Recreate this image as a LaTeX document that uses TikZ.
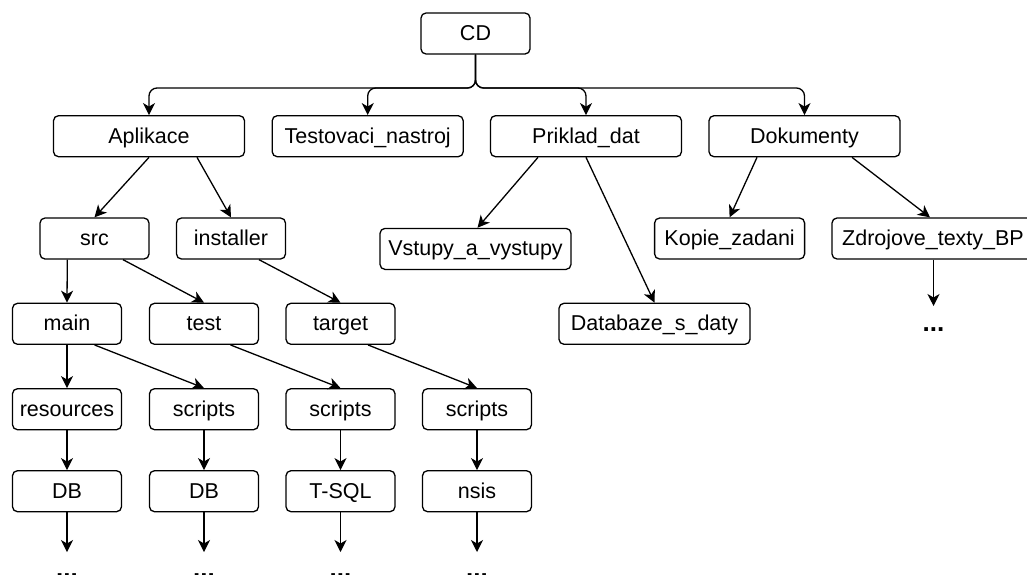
\documentclass[tikz,border=0pt]{standalone}
\usepackage{fontspec}
\setmainfont{Liberation Sans}
\usetikzlibrary{arrows.meta}
\begin{document}
\begin{tikzpicture}[x=1pt,y=-1pt,
  box/.style={draw, rounded corners=5pt, line width=1.3pt, inner sep=0pt,
    minimum height=41pt, text height=17.8pt, text depth=3.7pt,
    font=\fontsize{21.5}{25}\selectfont},
  narrow/.style={box, minimum width=109pt},
  wide/.style={box, minimum width=191pt},
  link/.style={line width=1.3pt, -{Stealth[length=12pt,width=12pt,inset=3.5pt]}},
  more/.style={font=\fontsize{26}{30}\selectfont\bfseries, anchor=base, inner sep=0pt}]

\useasboundingbox (0,0) rectangle (1027,574);
\clip (0,0) rectangle (1027,574);

% root and first level
\node[narrow] (cd) at (475.5,33.5) {CD};
\node[wide] (aplikace)  at (149,136.2)   {Aplikace};
\node[wide] (testovaci) at (367.7,136.2) {Testovaci\_nastroj};
\node[wide] (priklad)   at (586,136.2)   {Priklad\_dat};
\node[wide] (dokumenty) at (804.5,136.2) {Dokumenty};

% second level
\node[narrow] (src)       at (94.5,238.5) {src};
\node[narrow] (installer) at (231,238.5)  {installer};
\node[wide]   (vstupy)    at (475.5,248.9) {Vstupy\_a\_vystupy};
\node[box, minimum width=150pt] (kopie) at (729.6,238.5) {Kopie\_zadani};
\node[box, minimum width=202pt] (zdroj) at (933,238.5) {Zdrojove\_texty\_BP};
\node[wide]   (databaze)  at (654.5,323.8) {Databaze\_s\_daty};

% source tree columns
\node[narrow] (main)   at (67,323.8)    {main};
\node[narrow] (test)   at (204,323.8)   {test};
\node[narrow] (target) at (340.5,323.8) {target};

\node[narrow] (resources) at (67,409.2)    {resources};
\node[narrow] (scriptsA)  at (204,409.2)   {scripts};
\node[narrow] (scriptsB)  at (340.5,409.2) {scripts};
\node[narrow] (scriptsC)  at (477,409.2)   {scripts};

\node[narrow] (dbA)  at (67,491.2)    {DB};
\node[narrow] (dbB)  at (204,491.2)   {DB};
\node[narrow] (tsql) at (340.5,491.2) {T-SQL};
\node[narrow] (nsis) at (477,491.2)   {nsis};

% continuation marks
\coordinate (tipZ) at (933.5,306);
\coordinate (tipA) at (67,552);
\coordinate (tipB) at (204,552);
\coordinate (tipC) at (340.5,552);
\coordinate (tipD) at (477,552);
\node[more] (moreZ) at (933.5,331) {...};
\node[more] (moreA) at (67,577)    {...};
\node[more] (moreB) at (204,577)   {...};
\node[more] (moreC) at (340.5,577) {...};
\node[more] (moreD) at (477,577)   {...};

% fork below the root
\coordinate (fork) at (475.5,88);
\draw[link, rounded corners=8pt] (cd.south) -- (fork) -| (aplikace.north);
\draw[link, rounded corners=8pt] (cd.south) -- (fork) -| (testovaci.north);
\draw[link, rounded corners=8pt] (cd.south) -- (fork) -| (priklad.north);
\draw[link, rounded corners=8pt] (cd.south) -- (fork) -| (dokumenty.north);

% first level to second level
\draw[link] (aplikace.south) -- (src.north);
\draw[link] ([xshift=48pt]aplikace.south) -- (installer.north);
\draw[link] ([xshift=-48pt]priklad.south) -- ([xshift=2pt]vstupy.north);
\draw[link] (priklad.south) -- (databaze.north);
\draw[link] ([xshift=-47.5pt]dokumenty.south) -- (kopie.north);
\draw[link] ([xshift=47.5pt]dokumenty.south) -- ([xshift=-3pt]zdroj.north);
\draw[link] ([xshift=0.5pt]zdroj.south) -- (tipZ);

% source tree
\draw[link] ([xshift=-27.2pt]src.south) -- (main.north);
\draw[link] ([xshift=28.5pt]src.south) -- (test.north);
\draw[link] ([xshift=28pt]installer.south) -- (target.north);

\draw[link] (main.south) -- (resources.north);
\draw[link] ([xshift=27.6pt]main.south) -- (scriptsA.north);
\draw[link] ([xshift=26.5pt]test.south) -- (scriptsB.north);
\draw[link] ([xshift=27.5pt]target.south) -- (scriptsC.north);

\draw[link] (resources.south) -- (dbA.north);
\draw[link] (scriptsA.south) -- (dbB.north);
\draw[link] (scriptsB.south) -- (tsql.north);
\draw[link] (scriptsC.south) -- (nsis.north);

\draw[link] (dbA.south) -- (tipA);
\draw[link] (dbB.south) -- (tipB);
\draw[link] (tsql.south) -- (tipC);
\draw[link] (nsis.south) -- (tipD);
\end{tikzpicture}
\end{document}
